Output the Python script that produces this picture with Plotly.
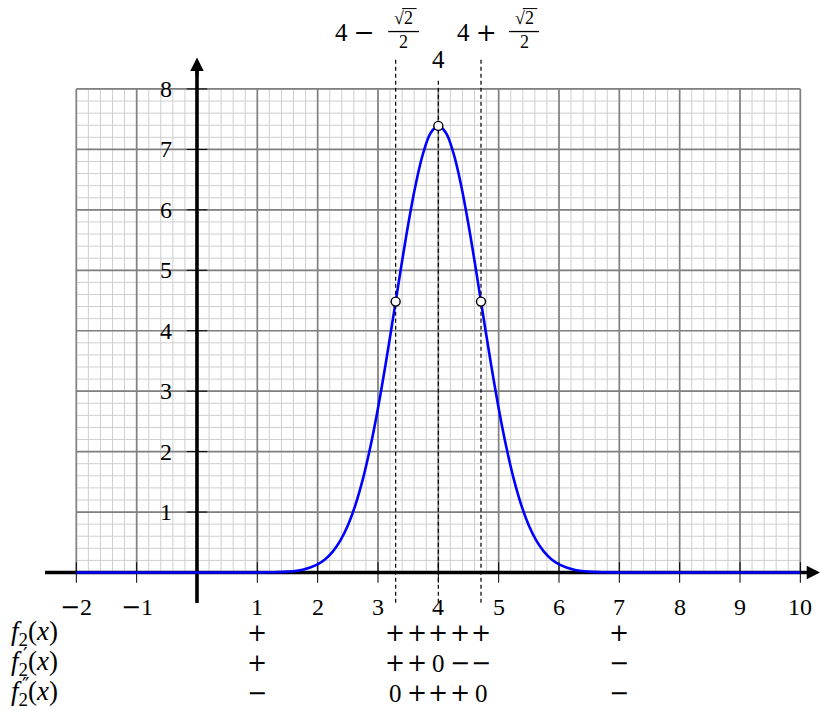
import plotly.graph_objects as go

# values
curve_x = [-2, -1, 0, 1, 1.25, 1.5, 1.75, 2, 2.125, 2.25, 2.375, 2.5, 2.625, 2.75, 2.875,
           3, 3.125, 3.25, 3.375, 3.5, 3.625, 3.75, 3.875, 4, 4.125, 4.25, 4.375, 4.5,
           4.625, 4.75, 4.875, 5, 5.125, 5.25, 5.375, 5.5, 5.625, 5.75, 5.875, 6,
           6.25, 6.5, 6.75, 7, 8, 9, 10]
curve_y = [0, 0, 0, 0.0009, 0.0038, 0.0143, 0.0468, 0.1353, 0.2197, 0.3456, 0.5270, 0.7788,
           1.1156, 1.5488, 2.0842, 2.7183, 3.436, 4.210, 5.000, 5.7546, 6.420, 6.941, 7.274,
           7.389, 7.274, 6.941, 6.420, 5.7546, 5.000, 4.210, 3.436, 2.7183, 2.0842, 1.5488,
           1.1156, 0.7788, 0.5270, 0.3456, 0.2197, 0.1353, 0.0468, 0.0143, 0.0038, 0.0009,
           0, 0, 0]

key_x = [3.2929, 4, 4.7071]
key_y = [4.482, 7.389, 4.482]

x_ticks = [-2, -1, 1, 2, 3, 4, 5, 6, 7, 8, 9, 10]
x_tick_labels = ["−2", "−1", "1", "2", "3", "4", "5", "6", "7", "8", "9", "10"]
y_ticks = [1, 2, 3, 4, 5, 6, 7, 8]
y_tick_labels = ["1", "2", "3", "4", "5", "6", "7", "8"]

sign_x = [1, 4, 7]
row_primes = ["", "′", "″"]
row_y = [-1, -1.5, -2]
sign_rows = [
    ["+", "+++++", "+"],
    ["+", "++0−−", "−"],
    ["−", "0+++0", "−"],
]

FONT = "'Liberation Serif', 'DejaVu Serif', serif"
OPS = "'DejaVu Serif', serif"
BLACK = "#000000"


def ops(s):
    # plus / minus drawn wider, like the TeX ones
    out = ""
    for ch in s:
        if ch in "+−":
            out += "<span style=\"font-family:'DejaVu Serif'\">" + ch + "</span>"
        else:
            out += ch
    return out


def grid_trace(step, color, width):
    xs, ys = [], []
    for i in range(int(round(12 / step)) + 1):
        x = -2 + i * step
        xs += [x, x, None]
        ys += [0, 8, None]
    for j in range(int(round(8 / step)) + 1):
        y = j * step
        xs += [-2, 10, None]
        ys += [y, y, None]
    return go.Scatter(x=xs, y=ys, mode="lines", hoverinfo="skip",
                      line=dict(color=color, width=width))


fig = go.Figure()
fig.add_trace(grid_trace(0.2, "#cfcfcf", 1))
fig.add_trace(grid_trace(1, "#808080", 1.7))

# tick marks
tx, ty = [], []
for v in x_ticks:
    tx += [v, v, None]
    ty += [-0.17, 0.17, None]
for v in y_ticks:
    tx += [-0.17, 0.17, None]
    ty += [v, v, None]
fig.add_trace(go.Scatter(x=tx, y=ty, mode="lines", hoverinfo="skip",
                         line=dict(color=BLACK, width=1)))

# axes
fig.add_trace(go.Scatter(x=[-2.52, 10.15], y=[0, 0], mode="lines",
                         line=dict(color=BLACK, width=3.6), hoverinfo="skip"))
fig.add_trace(go.Scatter(x=[0, 0], y=[-0.505, 8.3], mode="lines",
                         line=dict(color=BLACK, width=3.6), hoverinfo="skip"))

# the curve
fig.add_trace(go.Scatter(x=curve_x, y=curve_y, mode="lines",
                         line=dict(color="#0000ff", width=2.6, shape="spline")))

# dashed verticals
fig.add_trace(go.Scatter(x=[key_x[0], key_x[0], None, key_x[1], key_x[1], None, key_x[2], key_x[2]],
                         y=[-0.5, 8.5, None, -0.5, 8.15, None, -0.5, 8.5],
                         mode="lines", hoverinfo="skip",
                         line=dict(color=BLACK, width=1.2, dash="4px,3px")))

fig.add_trace(go.Scatter(x=key_x, y=key_y, mode="markers",
                         marker=dict(size=9, color="white",
                                     line=dict(color=BLACK, width=1.4))))

ann = []


def label(x, y, text, size=25, xanchor="center", yanchor="middle", family=FONT):
    ann.append(dict(x=x, y=y, text=text, showarrow=False, xanchor=xanchor,
                    yanchor=yanchor, borderpad=0,
                    font=dict(family=family, size=size, color=BLACK)))


for v, t in zip(x_ticks, x_tick_labels):
    label(v, -0.57, ops(t), size=24)
for v, t in zip(y_ticks, y_tick_labels):
    label(-0.4, v, t, size=24, xanchor="right")

# arrow heads
ann.append(dict(x=10.33, y=0, ax=10.0, ay=0, axref="x", ayref="y", xref="x", yref="y",
                text="", showarrow=True, arrowhead=2, arrowsize=0.9, arrowwidth=3,
                arrowcolor=BLACK))
ann.append(dict(x=0, y=8.52, ax=0, ay=8.2, axref="x", ayref="y", xref="x", yref="y",
                text="", showarrow=True, arrowhead=2, arrowsize=0.9, arrowwidth=3,
                arrowcolor=BLACK))

# labels above the dashed lines
label(2.62, 8.94, ops("4 −"))
label(3.42, 9.17, "√2", size=18)
label(3.43, 8.78, "2", size=18)
label(4.64, 8.94, ops("4 +"))
label(5.42, 9.17, "√2", size=18)
label(5.43, 8.78, "2", size=18)
label(4, 8.48, "4")

shapes = [
    dict(type="line", x0=3.17, x1=3.68, y0=8.95, y1=8.95, line=dict(color=BLACK, width=1.3)),
    dict(type="line", x0=5.17, x1=5.67, y0=8.95, y1=8.95, line=dict(color=BLACK, width=1.3)),
    dict(type="line", x0=3.40, x1=3.64, y0=9.33, y1=9.33, line=dict(color=BLACK, width=1)),
    dict(type="line", x0=5.40, x1=5.64, y0=9.33, y1=9.33, line=dict(color=BLACK, width=1)),
]

# sign table
for primes, yy in zip(row_primes, row_y):
    label(-3.1, yy, "<i>f</i><sub>2</sub>(<i>x</i>)", size=27, xanchor="left")
    if primes:
        label(-2.84, yy + 0.14, primes, size=20, family=OPS)
for signs, yy in zip(sign_rows, row_y):
    for xs, s in zip(sign_x, signs):
        offsets = [0] if len(s) == 1 else [-0.71, -0.355, 0, 0.355, 0.71]
        for off, ch in zip(offsets, s):
            if ch in "+−":
                label(xs + off, yy, ch, size=24, family=OPS)
            else:
                label(xs + off, yy, ch)

fig.update_layout(
    width=820, height=710,
    margin=dict(l=0, r=0, t=0, b=0),
    paper_bgcolor="white", plot_bgcolor="white",
    showlegend=False,
    xaxis=dict(range=[-3.265, 10.326], visible=False),
    yaxis=dict(range=[-2.275, 9.472], visible=False),
    annotations=ann,
    shapes=shapes,
)

fig.write_html("out.html", config={"displayModeBar": False},
               post_script="document.body.style.margin='0px';")
